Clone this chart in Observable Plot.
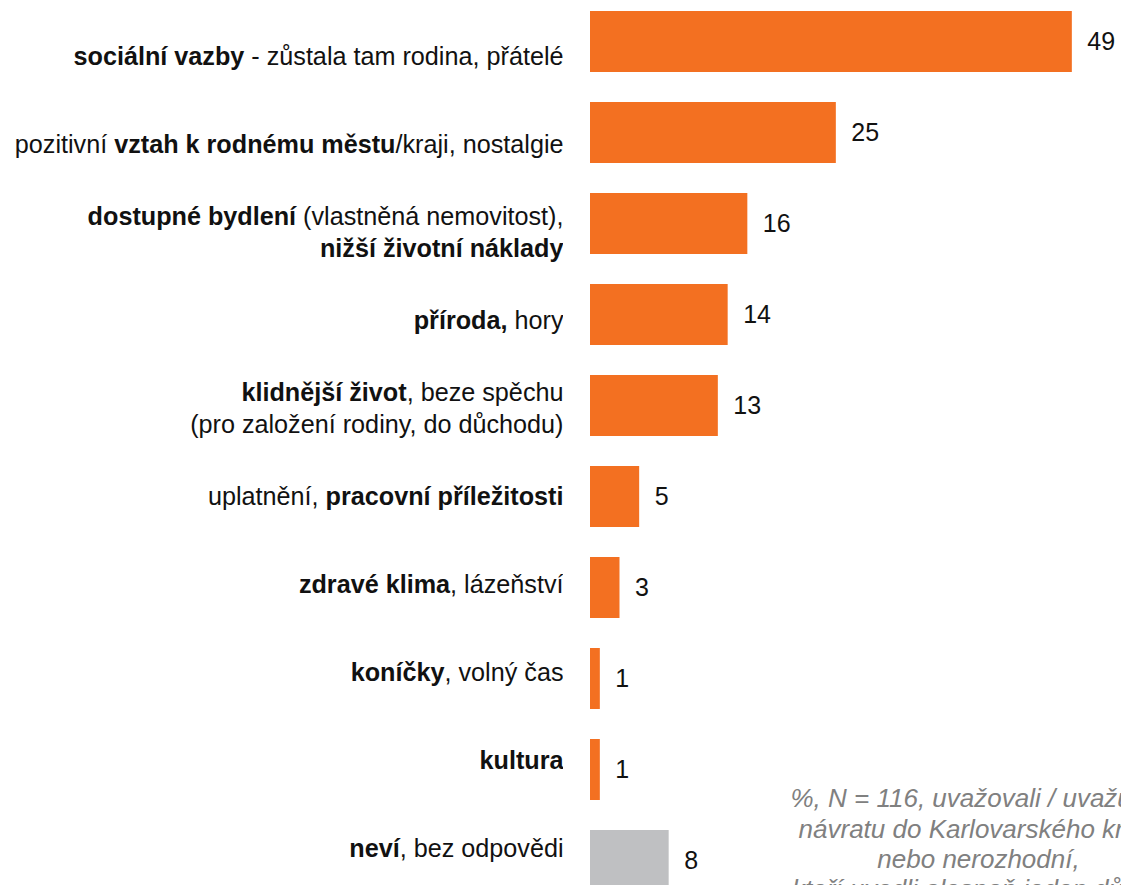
<!DOCTYPE html>
<html>
<head>
<meta charset="utf-8">
<script src="https://cdn.jsdelivr.net/npm/d3@7"></script>
<script src="https://cdn.jsdelivr.net/npm/@observablehq/plot@0.6"></script>
<style>
  html, body { margin: 0; padding: 0; background: #fff; overflow: hidden; }
  #chart { position: relative; width: 1121px; height: 885px; overflow: hidden; background: #fff; }
  #chart svg { position: absolute; top: 0; left: 0; }
</style>
</head>
<body>
<div id="chart"></div>
<script>
// ---- data ----
const categories = [
  "sociální vazby", "vztah k rodnému městu", "dostupné bydlení", "příroda",
  "klidnější život", "pracovní příležitosti", "zdravé klima", "koníčky",
  "kultura", "neví"
];
const values = [49, 25, 16, 14, 13, 5, 3, 1, 1, 8];
const groups = ["reason", "reason", "reason", "reason", "reason", "reason", "reason", "reason", "reason", "none"];
// **bold** markup, "\n" = new line
const richLabels = [
  "**sociální vazby** - zůstala tam rodina, přátelé",
  "pozitivní **vztah k rodnému městu**/kraji, nostalgie",
  "**dostupné bydlení** (vlastněná nemovitost),\n**nižší životní náklady**",
  "**příroda,** hory",
  "**klidnější život**, beze spěchu\n(pro založení rodiny, do důchodu)",
  "uplatnění, **pracovní příležitosti**",
  "**zdravé klima**, lázeňství",
  "**koníčky**, volný čas",
  "**kultura**",
  "**neví**, bez odpovědi"
];
const noteLines = [
  "%, N = 116, uvažovali / uvažují o",
  "návratu do Karlovarského kraje",
  "nebo nerozhodní,",
  "kteří uvedli alespoň jeden důvod"
];

const rows = categories.map((c, i) => ({
  cat: c, value: values[i], group: groups[i],
  plain: richLabels[i].replace(/\*\*/g, "")
}));

const FONT = "'Liberation Sans', Arial, Helvetica, sans-serif";

// ---- bars ----
const bars = Plot.plot({
  width: 1121,
  height: 902,
  marginLeft: 590,
  marginRight: 0,
  marginTop: 0,
  marginBottom: 0,
  style: { fontFamily: FONT, background: "transparent" },
  x: { domain: [0, 54], axis: null },
  y: { domain: categories, axis: null, paddingInner: 0.33, paddingOuter: 0.12 },
  color: { domain: ["reason", "none"], range: ["#f37021", "#bfc0c2"] },
  marks: [
    Plot.barX(rows, { x: "value", y: "cat", fill: "group" }),
    Plot.text(rows, {
      x: "value", y: "cat", text: d => String(d.value),
      dx: 15, textAnchor: "start", lineAnchor: "middle",
      fontSize: 25, fill: "#111"
    }),
    Plot.text([noteLines.join("\n")], {
      frameAnchor: "bottom-right", textAnchor: "middle", lineAnchor: "top",
      dx: -143, dy: -117, lineHeight: 1.17,
      fontSize: 26, fontStyle: "italic", fill: "#808080"
    })
  ]
});

// ---- category labels ----
const labels = Plot.plot({
  width: 563,
  height: 902,
  marginLeft: 0, marginRight: 0, marginTop: 0, marginBottom: 0,
  style: { fontFamily: FONT, background: "transparent" },
  y: { type: "point", domain: categories, range: [50, 850], padding: 0, axis: null },
  marks: [
    Plot.text(rows, {
      y: "cat", text: "plain", frameAnchor: "right",
      textAnchor: "end", lineAnchor: "middle", lineHeight: 1.26,
      fontSize: 25.2, fill: "#111"
    })
  ]
});

// rich text: bold segments
function fillRich(node, line) {
  while (node.firstChild) node.removeChild(node.firstChild);
  const parts = line.split("**");
  parts.forEach((p, k) => {
    if (!p) return;
    const t = document.createElementNS("http://www.w3.org/2000/svg", "tspan");
    t.textContent = p;
    if (k % 2 === 1) t.setAttribute("font-weight", "bold");
    node.appendChild(t);
  });
}
Array.from(labels.querySelectorAll("text")).forEach((el, i) => {
  if (i >= richLabels.length) return;
  const lines = richLabels[i].split("\n");
  const tspans = Array.from(el.children).filter(n => n.tagName.toLowerCase() === "tspan");
  if (tspans.length > 1) {
    tspans.forEach((ts, j) => fillRich(ts, lines[j]));
  } else {
    fillRich(el, lines[0]);
  }
});

const host = document.getElementById("chart");
host.appendChild(bars);
host.appendChild(labels);
</script>
</body>
</html>
